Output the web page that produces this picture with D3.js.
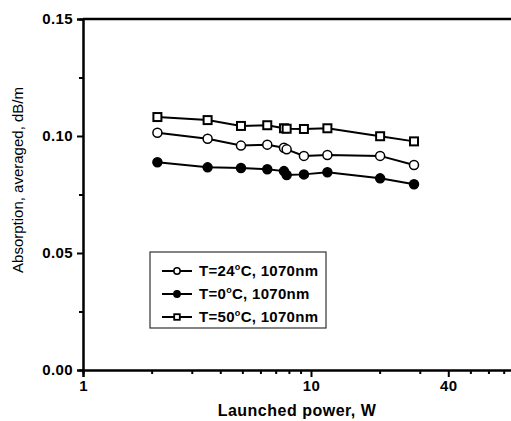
<!DOCTYPE html>
<html>
<head>
<meta charset="utf-8">
<script src="https://cdn.jsdelivr.net/npm/d3@7"></script>
<style>
  html, body { margin: 0; padding: 0; background: #fff; }
  svg { display: block; }
  text { font-family: "Liberation Sans", Arial, sans-serif; fill: #000; }
</style>
</head>
<body>
<svg id="chart" width="511" height="421"></svg>
<script>
// Launched pump power (W), shared by all three temperature series
const power = [2.12, 3.52, 4.93, 6.43, 7.61, 7.82, 9.31, 11.8, 20.1, 28.3];
// Averaged absorption (dB/m) per series
const abs24 = [0.1014, 0.0988, 0.0959, 0.0963, 0.0950, 0.0943, 0.0915, 0.0919, 0.0915, 0.0876];
const abs0  = [0.0888, 0.0866, 0.0863, 0.0858, 0.0850, 0.0833, 0.0836, 0.0845, 0.0819, 0.0794];
const abs50 = [0.1081, 0.1068, 0.1043, 0.1046, 0.1033, 0.1031, 0.1030, 0.1033, 0.0999, 0.0977];
// Series descriptors: temperature label and marker type
const seriesNames = ["24", "0", "50"];
const seriesMarkers = ["circleOpen", "circleFilled", "squareOpen"];
// Axis ticks
const xMajorTicks = [1, 10, 40];
const xMinorTicks = [2, 3, 4, 5, 6, 7, 8, 9, 20, 30, 50, 60, 70, 80, 90];
const yMajorTicks = [0, 0.05, 0.10, 0.15];
const yMinorTicks = [0.025, 0.075, 0.125];

const svg = d3.select("#chart");
const x = d3.scaleLog().domain([1, 100]).range([83, 539]);
const y = d3.scaleLinear().domain([0, 0.15]).range([370, 19]);

const seriesValues = [abs24, abs0, abs50];

// Axes
const xMajor = d3.axisBottom(x).tickValues(xMajorTicks).tickFormat(d3.format("d")).tickSize(7).tickPadding(3);
const xMinor = d3.axisBottom(x).tickValues(xMinorTicks).tickFormat("").tickSize(4);
const yMajor = d3.axisLeft(y).tickValues(yMajorTicks).tickFormat(d3.format(".2f")).tickSize(6).tickPadding(4);
const yMinor = d3.axisLeft(y).tickValues(yMinorTicks).tickFormat("").tickSize(4);

function styleAxis(g) {
  g.select(".domain").attr("stroke", "#000").attr("stroke-width", 2);
  g.selectAll(".tick line").attr("stroke", "#000").attr("stroke-width", 2);
  g.selectAll(".tick text").attr("font-size", 15).attr("font-weight", "bold")
    .attr("letter-spacing", 0.4)
    .style("font-family", '"Liberation Sans", Arial, sans-serif');
}

svg.append("g").attr("transform", `translate(0,${y(0)})`).call(xMinor).call(styleAxis);
svg.append("g").attr("transform", `translate(0,${y(0)})`).call(xMajor).call(styleAxis);
svg.append("g").attr("transform", `translate(${x(1)},0)`).call(yMinor).call(styleAxis);
svg.append("g").attr("transform", `translate(${x(1)},0)`).call(yMajor).call(styleAxis);

// Top frame line
svg.append("line")
  .attr("x1", x(1)).attr("x2", x(100))
  .attr("y1", y(0.15)).attr("y2", y(0.15))
  .attr("stroke", "#000").attr("stroke-width", 2.5);

// Axis titles
svg.append("text")
  .attr("x", 297).attr("y", 416)
  .attr("text-anchor", "middle")
  .attr("font-size", 16).attr("font-weight", "bold")
  .attr("letter-spacing", 0.5)
  .text("Launched power, W");

svg.append("text")
  .attr("transform", "translate(23,180) rotate(-90)")
  .attr("text-anchor", "middle")
  .attr("font-size", 15)
  .text("Absorption, averaged, dB/m");

// Marker drawing
function drawMarker(g, type, cx, cy, scale) {
  if (type === "squareOpen") {
    const s = 8 * scale;
    g.append("rect").attr("x", cx - s / 2).attr("y", cy - s / 2)
      .attr("width", s).attr("height", s)
      .attr("fill", "#fff").attr("stroke", "#000").attr("stroke-width", 2 * Math.min(1, scale + 0.2));
  } else {
    g.append("circle").attr("cx", cx).attr("cy", cy).attr("r", 4.5 * scale)
      .attr("fill", type === "circleFilled" ? "#000" : "#fff")
      .attr("stroke", "#000").attr("stroke-width", 1.5);
  }
}

const line = d3.line().x(d => x(d[0])).y(d => y(d[1]));

seriesValues.forEach((vals, i) => {
  const pts = power.map((p, k) => [p, vals[k]]);
  svg.append("path").datum(pts).attr("d", line)
    .attr("fill", "none").attr("stroke", "#000").attr("stroke-width", 2);
  const mg = svg.append("g");
  pts.forEach(p => drawMarker(mg, seriesMarkers[i], x(p[0]), y(p[1]), 1));
});

// Legend
const legend = svg.append("g");
legend.append("rect")
  .attr("x", 150).attr("y", 252).attr("width", 176).attr("height", 76)
  .attr("fill", "#fff").attr("stroke", "#333").attr("stroke-width", 1.2);

const rowY = [271, 294, 317];
seriesNames.forEach((name, i) => {
  const yy = rowY[i];
  legend.append("line").attr("x1", 162).attr("x2", 192).attr("y1", yy).attr("y2", yy)
    .attr("stroke", "#000").attr("stroke-width", 2);
  drawMarker(legend, seriesMarkers[i], 177, yy, 0.7);
  const t = legend.append("text").attr("x", 199).attr("y", yy + 5)
    .attr("font-size", 15).attr("font-weight", "bold").attr("letter-spacing", 0.3);
  t.append("tspan").text(`T=${name}`);
  t.append("tspan").attr("dy", -6).attr("font-size", 9).text("o");
  t.append("tspan").attr("dy", 6).text("C, 1070nm");
});
</script>
</body>
</html>
